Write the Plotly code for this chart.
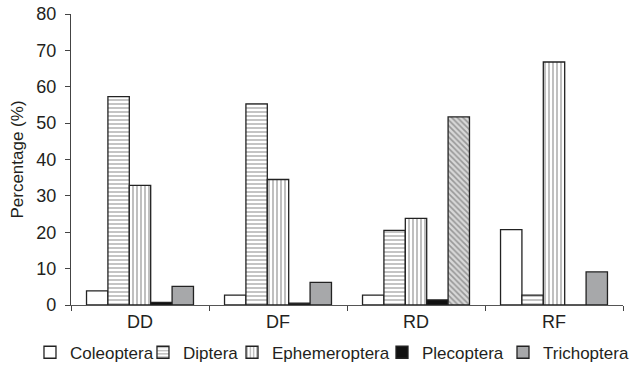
import plotly.graph_objects as go

sites = ["DD", "DF", "RD", "RF"]
coleoptera = [3.9, 2.7, 2.7, 20.7]
diptera = [57.3, 55.3, 20.5, 2.7]
ephemeroptera = [32.9, 34.5, 23.8, 66.8]
plecoptera = [0.7, 0.5, 1.4, 0.0]
trichoptera = [5.1, 6.2, 51.7, 9.1]

FONT = "Liberation Sans, Arial, sans-serif"
TXT = "#231f20"
LINE = dict(color="#222222", width=1.3)

fig = go.Figure()
fig.add_trace(go.Bar(name="Coleoptera", x=sites, y=coleoptera, legend="legend",
                     marker=dict(color="white", line=LINE)))
fig.add_trace(go.Bar(name="Diptera", x=sites, y=diptera, legend="legend2",
                     marker=dict(color="white", line=LINE,
                                 pattern=dict(shape="-", size=4, solidity=0.35,
                                              fgcolor="#555555", bgcolor="white"))))
fig.add_trace(go.Bar(name="Ephemeroptera", x=sites, y=ephemeroptera, legend="legend3",
                     marker=dict(color="white", line=LINE,
                                 pattern=dict(shape="|", size=4, solidity=0.3,
                                              fgcolor="#2a2a2a", bgcolor="white"))))
fig.add_trace(go.Bar(name="Plecoptera", x=sites, y=plecoptera, legend="legend4",
                     marker=dict(color="#111111", line=LINE)))
fig.add_trace(go.Bar(name="Trichoptera", x=sites, y=trichoptera, legend="legend5",
                     marker=dict(color="#a7a8aa", line=LINE,
                                 pattern=dict(shape=["", "", "\\", ""], size=4, solidity=0.4,
                                              fgcolor="#555555", bgcolor="#d8d8d8"))))

leg_common = dict(orientation="h", xanchor="left", y=-0.102, yanchor="top",
                  font=dict(size=17, color=TXT), itemwidth=30, bgcolor="rgba(0,0,0,0)")
fig.update_layout(
    width=631, height=369,
    margin=dict(l=71, r=8, t=14, b=64, autoexpand=False),
    paper_bgcolor="white", plot_bgcolor="white",
    barmode="group", bargap=0.225, bargroupgap=0,
    font=dict(family=FONT, size=18, color=TXT),
    showlegend=True,
    legend=dict(x=-0.0743, **leg_common),
    legend2=dict(x=0.1304, **leg_common),
    legend3=dict(x=0.2917, **leg_common),
    legend4=dict(x=0.5634, **leg_common),
    legend5=dict(x=0.7826, **leg_common),
)
fig.update_xaxes(showline=True, linecolor="#555555", linewidth=1.2,
                 ticks="outside", tickson="boundaries", ticklen=5, tickcolor="#444444",
                 showgrid=False, tickfont=dict(size=18, color=TXT))
fig.update_yaxes(range=[0, 80], dtick=10, showline=True, linecolor="#444444", linewidth=1.2,
                 ticks="outside", ticklen=5, tickcolor="#444444", showgrid=False,
                 zeroline=False, tickfont=dict(size=18, color=TXT), ticklabelstandoff=5,
                 title=dict(text="Percentage (%)", font=dict(size=17, color=TXT), standoff=8))

fig.write_html("out.html", config={"displayModeBar": False},
               post_script="document.body.style.margin='0';")
